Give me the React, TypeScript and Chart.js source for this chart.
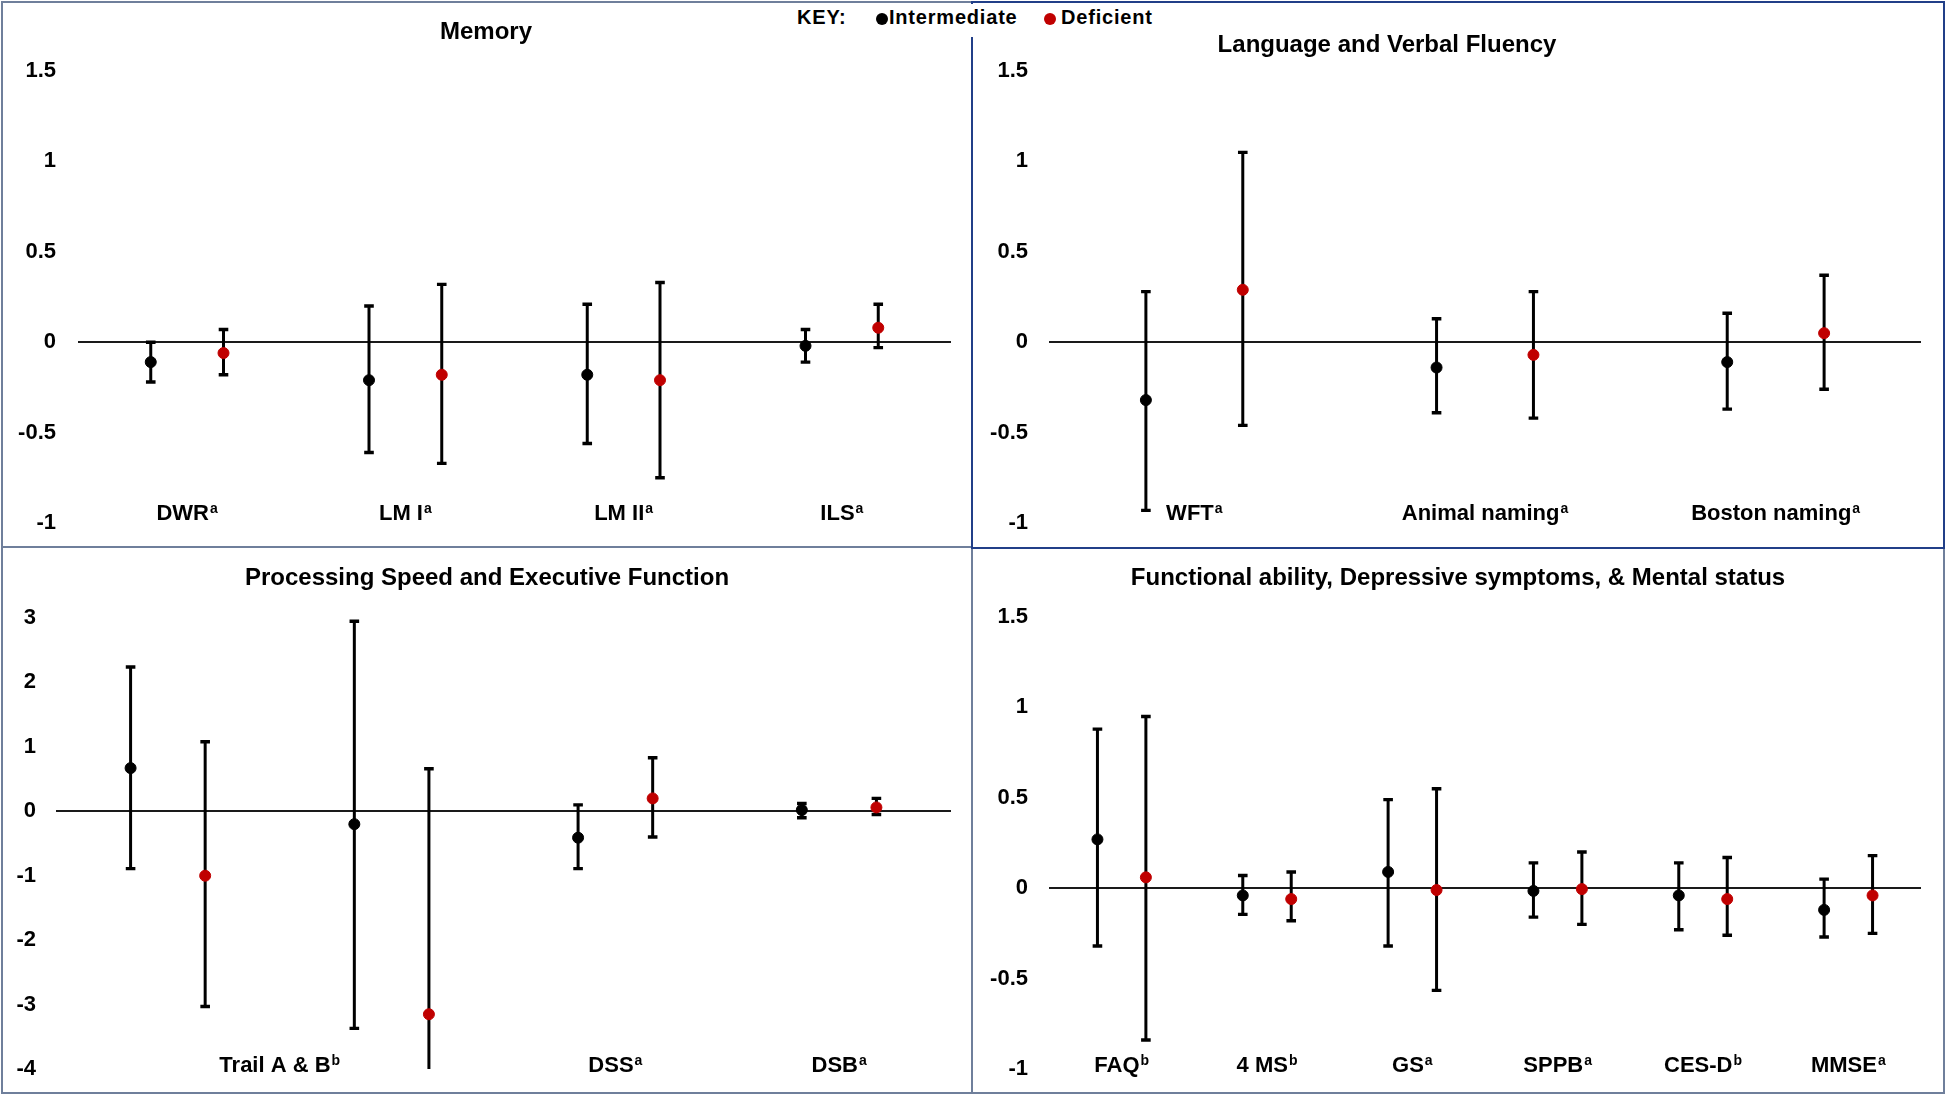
import React, { useEffect, useRef } from "react";
import { Chart, registerables } from "chart.js";

Chart.register(...registerables);

const FONT = '"Liberation Sans", Arial, Helvetica, sans-serif';

// ---------- Memory ----------
const memCats = ["DWR", "LM I", "LM II", "ILS"];
const memLabels = ["DWR", "LM I", "LM II", "ILS"];
const memSups = ["a", "a", "a", "a"];
const memLabelPos = [0.5, 1.5, 2.5, 3.5];
const memIntMean = [-0.11, -0.21, -0.18, -0.02];
const memIntLow = [-0.22, -0.61, -0.56, -0.11];
const memIntHigh = [0.0, 0.2, 0.21, 0.07];
const memDefMean = [-0.06, -0.18, -0.21, 0.08];
const memDefLow = [-0.18, -0.67, -0.75, -0.03];
const memDefHigh = [0.07, 0.32, 0.33, 0.21];

// ---------- Language and Verbal Fluency ----------
const langCats = ["WFT", "Animal naming", "Boston naming"];
const langLabels = ["WFT", "Animal naming", "Boston naming"];
const langSups = ["a", "a", "a"];
const langLabelPos = [0.5, 1.5, 2.5];
const langIntMean = [-0.32, -0.14, -0.11];
const langIntLow = [-0.93, -0.39, -0.37];
const langIntHigh = [0.28, 0.13, 0.16];
const langDefMean = [0.29, -0.07, 0.05];
const langDefLow = [-0.46, -0.42, -0.26];
const langDefHigh = [1.05, 0.28, 0.37];

// ---------- Processing Speed and Executive Function ----------
const procCats = ["Trail A", "Trail B", "DSS", "DSB"];
const procLabels = ["Trail A & B", "DSS", "DSB"];
const procSups = ["b", "a", "a"];
const procLabelPos = [1.0, 2.5, 3.5];
const procIntMean = [0.67, -0.2, -0.41, 0.02];
const procIntLow = [-0.89, -3.37, -0.89, -0.1];
const procIntHigh = [2.24, 2.95, 0.1, 0.12];
const procDefMean = [-1.0, -3.15, 0.2, 0.06];
const procDefLow = [-3.03, -4.3, -0.4, -0.05];
const procDefHigh = [1.08, 0.66, 0.83, 0.2];

// ---------- Functional ability, Depressive symptoms, & Mental status ----------
const funcCats = ["FAQ", "4 MS", "GS", "SPPB", "CES-D", "MMSE"];
const funcLabels = ["FAQ", "4 MS", "GS", "SPPB", "CES-D", "MMSE"];
const funcSups = ["b", "b", "a", "a", "b", "a"];
const funcLabelPos = [0.5, 1.5, 2.5, 3.5, 4.5, 5.5];
const funcIntMean = [0.27, -0.04, 0.09, -0.015, -0.04, -0.12];
const funcIntLow = [-0.32, -0.145, -0.32, -0.16, -0.23, -0.27];
const funcIntHigh = [0.88, 0.07, 0.49, 0.14, 0.14, 0.05];
const funcDefMean = [0.06, -0.06, -0.01, -0.005, -0.06, -0.04];
const funcDefLow = [-0.84, -0.18, -0.565, -0.2, -0.26, -0.25];
const funcDefHigh = [0.95, 0.09, 0.55, 0.2, 0.17, 0.18];

const INT_COLOR = "#000000";
const DEF_COLOR = "#c00000";

type PanelProps = {
  x: number;
  y: number;
  w: number;
  h: number;
  area: { left: number; right: number; top: number; bottom: number };
  tickPad: number;
  title: string;
  titleX: number;
  titleBaseline: number;
  cats: string[];
  labels: string[];
  sups: string[];
  labelPos: number[];
  labelBaseline: number;
  yMin: number;
  yMax: number;
  yStep: number;
  intMean: number[];
  intLow: number[];
  intHigh: number[];
  defMean: number[];
  defLow: number[];
  defHigh: number[];
};

function Panel(p: PanelProps) {
  const ref = useRef<HTMLCanvasElement>(null);
  useEffect(() => {
    const canvas = ref.current;
    if (!canvas) return;
    const n = p.cats.length;
    const off = 1 / 6;

    const errorBars = {
      id: "errorBars",
      beforeDatasetsDraw(chart: any) {
        const { ctx, chartArea, scales } = chart;
        const xs = scales.x;
        const ys = scales.y;
        ctx.save();
        ctx.beginPath();
        ctx.rect(chartArea.left, chartArea.top - 6, chartArea.right - chartArea.left, chartArea.bottom - chartArea.top + 6);
        ctx.clip();
        ctx.strokeStyle = "#000";
        chart.data.datasets.forEach((ds: any) => {
          ds.data.forEach((pt: any, i: number) => {
            const px = xs.getPixelForValue(pt.x);
            const yl = ys.getPixelForValue(ds.errLow[i]);
            const yh = ys.getPixelForValue(ds.errHigh[i]);
            ctx.lineWidth = 3;
            ctx.beginPath();
            ctx.moveTo(px, yl);
            ctx.lineTo(px, yh);
            ctx.stroke();
            ctx.lineWidth = 3.4;
            ctx.beginPath();
            ctx.moveTo(px - 4.8, yl);
            ctx.lineTo(px + 4.8, yl);
            ctx.moveTo(px - 4.8, yh);
            ctx.lineTo(px + 4.8, yh);
            ctx.stroke();
          });
        });
        ctx.restore();
      },
    };

    const texts = {
      id: "panelTexts",
      afterDraw(chart: any) {
        const { ctx, scales } = chart;
        const xs = scales.x;
        ctx.save();
        ctx.fillStyle = "#000";
        ctx.textBaseline = "alphabetic";
        ctx.textAlign = "center";
        ctx.font = `bold 24px ${FONT}`;
        ctx.fillText(p.title, p.titleX - p.x, p.titleBaseline - p.y);
        ctx.textAlign = "left";
        const base = p.labelBaseline - p.y;
        p.labels.forEach((lab, i) => {
          ctx.font = `bold 22px ${FONT}`;
          const w1 = ctx.measureText(lab).width;
          ctx.font = `bold 14px ${FONT}`;
          const w2 = ctx.measureText(p.sups[i]).width;
          const cx = xs.getPixelForValue(p.labelPos[i]);
          const start = cx - (w1 + 1 + w2) / 2;
          ctx.font = `bold 22px ${FONT}`;
          ctx.fillText(lab, start, base);
          ctx.font = `bold 14px ${FONT}`;
          ctx.fillText(p.sups[i], start + w1 + 1, base - 7);
        });
        ctx.restore();
      },
    };

    const chart = new Chart(canvas, {
      type: "scatter",
      data: {
        datasets: [
          {
            label: "Intermediate",
            data: p.intMean.map((v, i) => ({ x: i + 0.5 - off, y: v })),
            errLow: p.intLow,
            errHigh: p.intHigh,
            showLine: false,
            pointRadius: 5.5,
            pointBackgroundColor: INT_COLOR,
            pointBorderColor: INT_COLOR,
            pointBorderWidth: 1,
          } as any,
          {
            label: "Deficient",
            data: p.defMean.map((v, i) => ({ x: i + 0.5 + off, y: v })),
            errLow: p.defLow,
            errHigh: p.defHigh,
            showLine: false,
            pointRadius: 5.5,
            pointBackgroundColor: DEF_COLOR,
            pointBorderColor: DEF_COLOR,
            pointBorderWidth: 1,
          } as any,
        ],
      },
      options: {
        animation: false,
        responsive: false,
        maintainAspectRatio: false,
        layout: {
          autoPadding: false,
          padding: {
            left: 0,
            right: p.x + p.w - p.area.right,
            top: p.area.top - p.y,
            bottom: p.y + p.h - p.area.bottom,
          },
        },
        scales: {
          x: { type: "linear", min: 0, max: n, display: false },
          y: {
            type: "linear",
            min: p.yMin,
            max: p.yMax,
            afterFit: (s: any) => {
              s.width = p.area.left - p.x;
            },
            ticks: {
              stepSize: p.yStep,
              padding: 0,
              color: "#000",
              font: { family: FONT, size: 22, weight: "bold" },
              callback: (v: any) => String(v),
            },
            grid: {
              drawTicks: true,
              tickLength: p.tickPad,
              tickColor: "rgba(0,0,0,0)",
              lineWidth: 2,
              color: (c: any) => (c.tick && c.tick.value === 0 ? "#1a1a1a" : "rgba(0,0,0,0)"),
            },
            border: { display: false },
          },
        },
        plugins: {
          legend: { display: false },
          tooltip: { enabled: false },
          title: { display: false },
        },
      } as any,
      plugins: [errorBars, texts],
    });
    return () => chart.destroy();
  }, []);
  return (
    <canvas
      ref={ref}
      width={p.w}
      height={p.h}
      style={{ position: "absolute", left: p.x, top: p.y, width: p.w, height: p.h }}
    />
  );
}

export default function App() {
  const grey = "#6f7f9b";
  const navy = "#213f88";
  return (
    <div
      style={{
        position: "absolute",
        left: 0,
        top: 0,
        width: 1946,
        height: 1096,
        background: "#fff",
        overflow: "hidden",
        fontFamily: FONT,
      }}
    >
      {/* outer frame */}
      <div style={{ position: "absolute", left: 1, top: 1, width: 1940, height: 1089, border: `2px solid ${grey}` }} />
      {/* horizontal divider (left half) */}
      <div style={{ position: "absolute", left: 1, top: 546, width: 972, height: 2, background: grey }} />
      {/* vertical divider lower half */}
      <div style={{ position: "absolute", left: 971, top: 547, width: 2, height: 545, background: grey }} />
      {/* top-right navy frame */}
      <div style={{ position: "absolute", left: 971, top: 1, width: 970, height: 544, border: `2px solid ${navy}` }} />

      <Panel
        x={0}
        y={0}
        w={972}
        h={547}
        area={{ left: 78, right: 951, top: 71, bottom: 523 }}
        tickPad={22}
        title="Memory"
        titleX={486}
        titleBaseline={39}
        cats={memCats}
        labels={memLabels}
        sups={memSups}
        labelPos={memLabelPos}
        labelBaseline={520}
        yMin={-1}
        yMax={1.5}
        yStep={0.5}
        intMean={memIntMean}
        intLow={memIntLow}
        intHigh={memIntHigh}
        defMean={memDefMean}
        defLow={memDefLow}
        defHigh={memDefHigh}
      />
      <Panel
        x={973}
        y={0}
        w={973}
        h={547}
        area={{ left: 1049, right: 1921, top: 71, bottom: 523 }}
        tickPad={21}
        title="Language and Verbal Fluency"
        titleX={1387}
        titleBaseline={52}
        cats={langCats}
        labels={langLabels}
        sups={langSups}
        labelPos={langLabelPos}
        labelBaseline={520}
        yMin={-1}
        yMax={1.5}
        yStep={0.5}
        intMean={langIntMean}
        intLow={langIntLow}
        intHigh={langIntHigh}
        defMean={langDefMean}
        defLow={langDefLow}
        defHigh={langDefHigh}
      />
      <Panel
        x={0}
        y={548}
        w={972}
        h={548}
        area={{ left: 56, right: 951, top: 618, bottom: 1069 }}
        tickPad={20}
        title="Processing Speed and Executive Function"
        titleX={487}
        titleBaseline={585}
        cats={procCats}
        labels={procLabels}
        sups={procSups}
        labelPos={procLabelPos}
        labelBaseline={1072}
        yMin={-4}
        yMax={3}
        yStep={1}
        intMean={procIntMean}
        intLow={procIntLow}
        intHigh={procIntHigh}
        defMean={procDefMean}
        defLow={procDefLow}
        defHigh={procDefHigh}
      />
      <Panel
        x={973}
        y={548}
        w={973}
        h={548}
        area={{ left: 1049, right: 1921, top: 617, bottom: 1069 }}
        tickPad={21}
        title="Functional ability, Depressive symptoms, & Mental status"
        titleX={1458}
        titleBaseline={585}
        cats={funcCats}
        labels={funcLabels}
        sups={funcSups}
        labelPos={funcLabelPos}
        labelBaseline={1072}
        yMin={-1}
        yMax={1.5}
        yStep={0.5}
        intMean={funcIntMean}
        intLow={funcIntLow}
        intHigh={funcIntHigh}
        defMean={funcDefMean}
        defLow={funcDefLow}
        defHigh={funcDefHigh}
      />

      {/* Key */}
      <div style={{ position: "absolute", left: 788, top: 4, width: 375, height: 33, background: "#fff" }} />
      <div
        style={{
          position: "absolute",
          left: 797,
          top: 7,
          fontSize: 20,
          lineHeight: "20px",
          fontWeight: "bold",
          color: "#000",
          letterSpacing: 0.8,
          whiteSpace: "nowrap",
        }}
      >
        KEY:
      </div>
      <div style={{ position: "absolute", left: 876, top: 13, width: 12, height: 12, borderRadius: 6, background: INT_COLOR }} />
      <div
        style={{
          position: "absolute",
          left: 889,
          top: 7,
          fontSize: 20,
          lineHeight: "20px",
          fontWeight: "bold",
          color: "#000",
          letterSpacing: 0.8,
          whiteSpace: "nowrap",
        }}
      >
        Intermediate
      </div>
      <div style={{ position: "absolute", left: 1044, top: 13, width: 12, height: 12, borderRadius: 6, background: DEF_COLOR }} />
      <div
        style={{
          position: "absolute",
          left: 1061,
          top: 7,
          fontSize: 20,
          lineHeight: "20px",
          fontWeight: "bold",
          color: "#000",
          letterSpacing: 0.8,
          whiteSpace: "nowrap",
        }}
      >
        Deficient
      </div>
    </div>
  );
}
